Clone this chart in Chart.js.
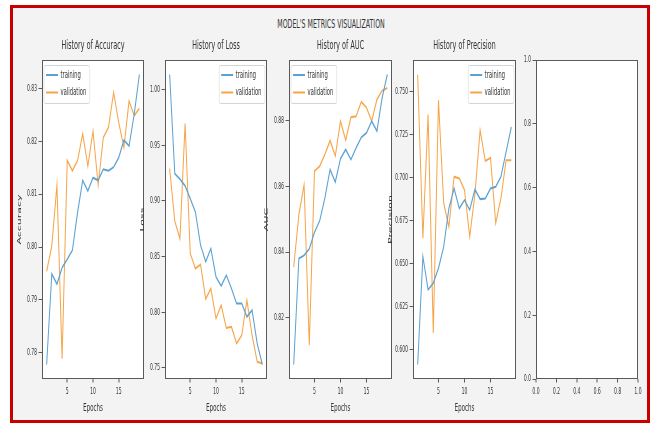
<!DOCTYPE html>
<html>
<head>
<meta charset="utf-8">
<script src="https://cdn.jsdelivr.net/npm/chart.js@4.4.1/dist/chart.umd.min.js"></script>
<style>
  html, body { margin: 0; padding: 0; background: #ffffff; width: 654px; height: 423px; overflow: hidden; }
  #frame { position: absolute; left: 10px; top: 5px; width: 634px; height: 412px; border: 3px solid #c80000; background: #f3f3f3; }
  #suptitle { position: absolute; left: 0; top: 17px; width: 662px; text-align: center; font: 12.5px 'DejaVu Sans', sans-serif; line-height: 14px; color: #333; transform-origin: 331px 0; transform: scaleX(0.5); white-space: nowrap; }
  canvas { position: absolute; }
</style>
</head>
<body>
<div id="frame"></div>
<div id="suptitle">MODEL'S METRICS VISUALIZATION</div>
<script>
// ---------------- data ----------------
const epochs = [1, 2, 3, 4, 5, 6, 7, 8, 9, 10, 11, 12, 13, 14, 15, 16, 17, 18, 19];
const seriesNames = ['training', 'validation'];

const accTrain = [0.7778, 0.7949, 0.7930, 0.7961, 0.7977, 0.7994, 0.8065, 0.8126, 0.8106, 0.8131, 0.8126, 0.8147, 0.8144, 0.8151, 0.8169, 0.8202, 0.8191, 0.8251, 0.8326];
const accVal   = [0.7954, 0.8002, 0.8117, 0.7789, 0.8164, 0.8144, 0.8163, 0.8214, 0.8153, 0.8219, 0.8117, 0.8207, 0.8226, 0.8292, 0.8235, 0.8188, 0.8276, 0.8248, 0.8262];

const lossTrain = [1.0135, 0.9245, 0.9195, 0.9135, 0.9021, 0.8901, 0.8602, 0.8452, 0.8572, 0.8317, 0.8236, 0.8332, 0.8213, 0.8078, 0.8078, 0.7958, 0.8018, 0.7718, 0.7530];
const lossVal   = [0.9290, 0.8817, 0.8662, 0.9695, 0.8527, 0.8392, 0.8428, 0.8117, 0.8213, 0.7943, 0.8063, 0.7859, 0.7868, 0.7718, 0.7793, 0.8108, 0.7793, 0.7554, 0.7539];

const aucTrain = [0.8058, 0.8380, 0.8390, 0.8410, 0.8460, 0.8495, 0.8565, 0.8651, 0.8613, 0.8684, 0.8712, 0.8681, 0.8717, 0.8749, 0.8762, 0.8798, 0.8768, 0.8869, 0.8940];
const aucVal   = [0.8354, 0.8514, 0.8605, 0.8117, 0.8646, 0.8661, 0.8697, 0.8739, 0.8692, 0.8798, 0.8740, 0.8810, 0.8813, 0.8857, 0.8839, 0.8798, 0.8864, 0.8891, 0.8899];

const precTrain = [0.5913, 0.6541, 0.6347, 0.6386, 0.6473, 0.6598, 0.6820, 0.6936, 0.6820, 0.6869, 0.6811, 0.6930, 0.6874, 0.6878, 0.6936, 0.6946, 0.7004, 0.7149, 0.7293];
const precVal   = [0.7598, 0.6647, 0.7365, 0.6097, 0.7448, 0.6850, 0.6714, 0.7004, 0.6994, 0.6927, 0.6656, 0.6901, 0.7274, 0.7095, 0.7114, 0.6734, 0.6878, 0.7100, 0.7100];

const epochTicks = [5, 10, 15];
const accTicks   = [0.78, 0.79, 0.80, 0.81, 0.82, 0.83];
const lossTicks  = [0.75, 0.80, 0.85, 0.90, 0.95, 1.00];
const aucTicks   = [0.82, 0.84, 0.86, 0.88];
const precTicks  = [0.600, 0.625, 0.650, 0.675, 0.700, 0.725, 0.750];
const emptyTicks = [0.0, 0.2, 0.4, 0.6, 0.8, 1.0];

const panelTitles = ['History of Accuracy', 'History of Loss', 'History of AUC', 'History of Precision'];
const yTitles = ['Accuracy', 'Loss', 'AUC', 'Precision'];
const xTitle = 'Epochs';

// ---------------- style / layout ----------------
const FONT = "'DejaVu Sans', sans-serif";
const BLUE = '#5aa2d4';
const ORANGE = '#f7a548';
const TEXT = '#333333';
const SPINE = '#5a5a5a';
const S = 0.5;                 // horizontal squeeze of the whole figure
const CANVAS_TOP = 36, PLOT_TOP = 60, PLOT_BOTTOM = 379;
const XH = 38, YW = 32, RP = 8;
const panelX = [[42, 144], [165, 267], [289, 392], [413, 516], [536, 638]];

function padRange(arrs) {
  const all = [].concat(...arrs);
  const lo = Math.min(...all), hi = Math.max(...all);
  const m = (hi - lo) * 0.05;
  return [lo - m, hi + m];
}

const framePlugin = {
  id: 'frame',
  beforeDraw(chart) {
    const { ctx, chartArea: a } = chart;
    ctx.save();
    ctx.fillStyle = '#ffffff';
    ctx.fillRect(a.left, a.top, a.right - a.left, a.bottom - a.top);
    ctx.restore();
  },
  afterDatasetsDraw(chart) {
    const { ctx, chartArea: a } = chart;
    ctx.save();
    ctx.strokeStyle = SPINE;
    ctx.lineWidth = 1;
    ctx.beginPath();
    ctx.moveTo(a.left, a.top + 0.5); ctx.lineTo(a.right, a.top + 0.5);
    ctx.moveTo(a.left, a.bottom - 0.5); ctx.lineTo(a.right, a.bottom - 0.5);
    ctx.stroke();
    ctx.lineWidth = 1 / S;
    ctx.beginPath();
    ctx.moveTo(a.left + 1, a.top); ctx.lineTo(a.left + 1, a.bottom);
    ctx.moveTo(a.right - 1, a.top); ctx.lineTo(a.right - 1, a.bottom);
    ctx.stroke();
    ctx.restore();
  }
};

const legendPlugin = {
  id: 'boxLegend',
  afterDraw(chart, args, opts) {
    if (!opts || !opts.corner) return;
    const { ctx, chartArea: a } = chart;
    const ds = chart.data.datasets;
    ctx.save();
    ctx.font = '10.5px ' + FONT;
    const tw = Math.max(...ds.map(d => ctx.measureText(d.label).width));
    const w = 33 + tw + 7, h = 38;
    const x = opts.corner === 'left' ? a.left + 4 : a.right - 4 - w;
    const y = a.top + 5;
    ctx.fillStyle = 'rgba(255,255,255,0.85)';
    ctx.strokeStyle = '#d4d4d4';
    ctx.lineWidth = 1;
    ctx.beginPath();
    ctx.roundRect(x, y + 0.5, w, h, 3);
    ctx.fill(); ctx.stroke();
    ds.forEach((d, k) => {
      const ly = y + 10 + k * 17.5;
      ctx.strokeStyle = d.borderColor;
      ctx.lineWidth = 2;
      ctx.beginPath(); ctx.moveTo(x + 4, ly); ctx.lineTo(x + 28, ly); ctx.stroke();
      ctx.fillStyle = TEXT;
      ctx.textBaseline = 'middle';
      ctx.fillText(d.label, x + 33, ly);
    });
    ctx.restore();
  }
};

function makePanel(i, cfg) {
  const [L, R] = panelX[i];
  const wFinal = (R - L) + YW + RP;
  const hFinal = (PLOT_BOTTOM - CANVAS_TOP) + XH;
  const c = document.createElement('canvas');
  c.width = wFinal / S; c.height = hFinal;
  c.style.left = (L - YW) + 'px';
  c.style.top = CANVAS_TOP + 'px';
  c.style.width = (wFinal / S) + 'px';
  c.style.height = hFinal + 'px';
  c.style.transformOrigin = '0 0';
  c.style.transform = 'scaleX(' + S + ')';
  document.body.appendChild(c);

  const datasets = (cfg.series || []).map((vals, k) => ({
    label: seriesNames[k],
    data: epochs.map((e, j) => ({ x: e, y: vals[j] })),
    borderColor: k === 0 ? BLUE : ORANGE,
    borderWidth: 2,
    pointRadius: 0,
    tension: 0,
    fill: false
  }));

  const xr = cfg.xRange, yr = cfg.yRange;
  new Chart(c, {
    type: 'line',
    data: { datasets },
    options: {
      responsive: false, animation: false, devicePixelRatio: 1,
      layout: { padding: { left: 0, right: RP / S, top: cfg.title ? 0 : 24, bottom: 0 } },
      plugins: {
        legend: { display: false },
        tooltip: { enabled: false },
        title: {
          display: !!cfg.title, text: cfg.title || '', color: TEXT, fullSize: false,
          font: { family: FONT, size: 13, weight: 'normal', lineHeight: 1.2 },
          padding: { top: 2.2, bottom: 6.2 }
        },
        boxLegend: { corner: cfg.legend || null }
      },
      scales: {
        x: {
          type: 'linear', min: xr[0], max: xr[1],
          afterBuildTicks: s => { s.ticks = cfg.xTicks.map(v => ({ value: v })); },
          afterFit: s => { s.height = XH; },
          ticks: {
            autoSkip: false, maxRotation: 0, padding: 3.5, color: TEXT,
            font: { family: FONT, size: 9 },
            callback: v => cfg.xDec == null ? String(v) : Number(v).toFixed(cfg.xDec)
          },
          grid: { drawOnChartArea: false, drawTicks: true, tickLength: 3.5, color: SPINE, lineWidth: 1 / S },
          border: { display: false },
          title: {
            display: !!cfg.xTitle, text: cfg.xTitle || '', color: TEXT,
            font: { family: FONT, size: 11 }, padding: { top: 0, bottom: 2.5 }
          }
        },
        y: {
          type: 'linear', min: yr[0], max: yr[1],
          afterBuildTicks: s => { s.ticks = cfg.yTicks.map(v => ({ value: v })); },
          afterFit: s => { s.width = YW / S; },
          ticks: {
            autoSkip: false, padding: 3, color: TEXT,
            font: { family: FONT, size: 9 },
            callback: v => Number(v).toFixed(cfg.yDec)
          },
          grid: { drawOnChartArea: false, drawTicks: true, tickLength: 7, color: SPINE, lineWidth: 1 },
          border: { display: false },
          title: {
            display: !!cfg.yTitle, text: cfg.yTitle || '', color: TEXT,
            font: { family: FONT, size: 11 }, padding: { top: 13, bottom: 0 }
          }
        }
      }
    },
    plugins: [framePlugin, legendPlugin]
  });
}

const epochRange = [epochs[0] - 0.05 * (epochs[epochs.length - 1] - epochs[0]),
                    epochs[epochs.length - 1] + 0.05 * (epochs[epochs.length - 1] - epochs[0])];

makePanel(0, { title: panelTitles[0], yTitle: yTitles[0], xTitle, series: [accTrain, accVal],
  xRange: epochRange, yRange: padRange([accTrain, accVal]), xTicks: epochTicks, yTicks: accTicks, yDec: 2, legend: 'left' });
makePanel(1, { title: panelTitles[1], yTitle: yTitles[1], xTitle, series: [lossTrain, lossVal],
  xRange: epochRange, yRange: padRange([lossTrain, lossVal]), xTicks: epochTicks, yTicks: lossTicks, yDec: 2, legend: 'right' });
makePanel(2, { title: panelTitles[2], yTitle: yTitles[2], xTitle, series: [aucTrain, aucVal],
  xRange: epochRange, yRange: padRange([aucTrain, aucVal]), xTicks: epochTicks, yTicks: aucTicks, yDec: 2, legend: 'left' });
makePanel(3, { title: panelTitles[3], yTitle: yTitles[3], xTitle, series: [precTrain, precVal],
  xRange: epochRange, yRange: padRange([precTrain, precVal]), xTicks: epochTicks, yTicks: precTicks, yDec: 3, legend: 'right' });
makePanel(4, { title: null, yTitle: null, xTitle: null, series: [],
  xRange: [0, 1], yRange: [0, 1], xTicks: emptyTicks, yTicks: emptyTicks, xDec: 1, yDec: 1, legend: null });
</script>
</body>
</html>
